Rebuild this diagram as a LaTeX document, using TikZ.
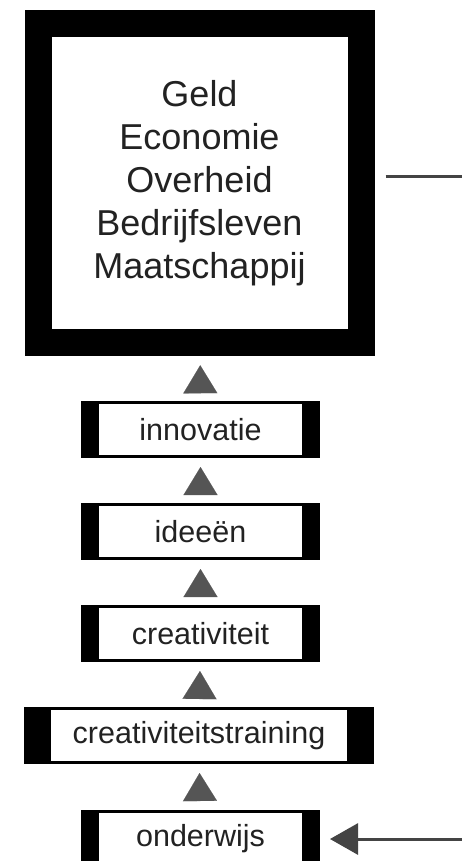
\documentclass[tikz,border=0pt]{standalone}
\usepackage{fontspec}
\setmainfont{Liberation Sans}
\usetikzlibrary{arrows.meta}
\definecolor{ink}{HTML}{222222}
\definecolor{tri}{HTML}{555555}
\definecolor{conncol}{HTML}{444444}
\begin{document}
\begin{tikzpicture}[x=1pt,y=-1pt,
  bigbox/.style={draw=black, line width=27pt, fill=white, minimum width=323pt,
    minimum height=319.5pt, inner sep=0pt, align=center,
    font=\fontsize{36}{43}\selectfont, text=ink},
  stepbox/.style={draw=black, line width=3pt, fill=white, minimum width=236pt,
    minimum height=54pt, inner sep=0pt, font=\fontsize{30.5}{36}\selectfont, text=ink},
  widebox/.style={stepbox, minimum width=347pt},
  uparrow/.style={draw=tri, line width=0.1pt,
    -{Triangle[width=34pt,length=28pt,fill=tri]}, shorten >=9pt, shorten <=10pt},
  conn/.style={draw=conncol, line width=3pt},
  inarrow/.style={conn, -{Triangle[width=31pt,length=28pt,fill=conncol]}, shorten >=10pt}
]
\useasboundingbox[fill=white] (0,0) rectangle (462,861);

\node[bigbox] (big) at (199.5,183) {Geld\\Economie\\Overheid\\Bedrijfsleven\\Maatschappij};

\node[stepbox] (innovatie) at (200.5,429.5) {innovatie};
\node[stepbox] (ideeen) at (200.5,531.5) {ideeën};
\node[stepbox] (creativiteit) at (200.5,633.5) {creativiteit};
\node[widebox] (training) at (199,735.5) {creativiteitstraining};
\node[stepbox] (onderwijs) at (200.5,838.5) {onderwijs};

% side bars
\foreach \n/\w in {innovatie/18, ideeen/18, creativiteit/18, onderwijs/18, training/27}{
  \fill[black] (\n.north west) rectangle ([xshift=\w pt]\n.south west);
  \fill[black] (\n.north east) rectangle ([xshift=-\w pt]\n.south east);
}

\draw[uparrow] (innovatie) -- (big);
\draw[uparrow] (ideeen) -- (innovatie);
\draw[uparrow] (creativiteit) -- (ideeen);
\draw[uparrow] (training) -- (creativiteit);
\draw[uparrow] (onderwijs) -- (training);

\coordinate (r1) at (462,177);
\coordinate (r2) at (462,839);
\draw[conn, shorten <=11pt] (big.east |- r1) -- (r1);
\draw[inarrow] (r2) -- (onderwijs.east |- r2);
\end{tikzpicture}
\end{document}
